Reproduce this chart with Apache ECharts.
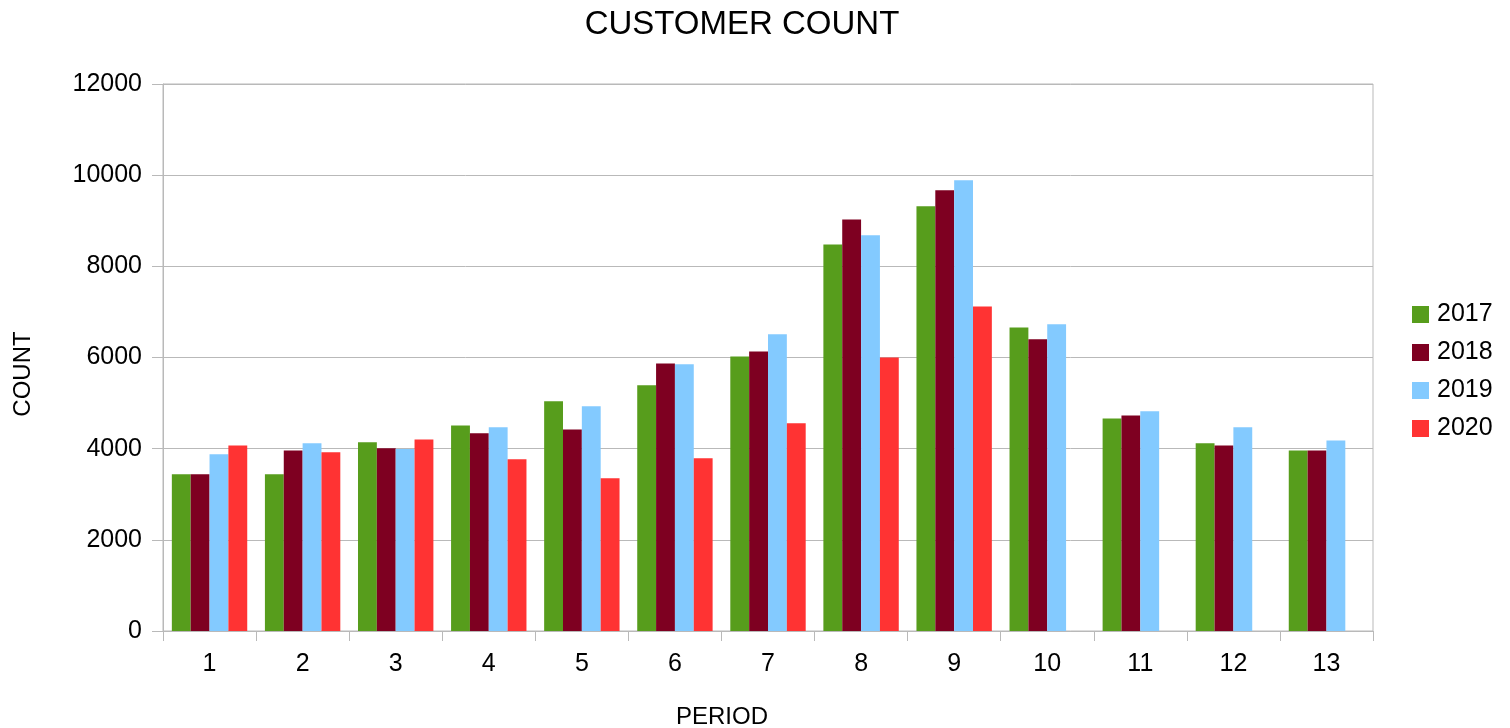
<!DOCTYPE html>
<html>
<head>
<meta charset="utf-8">
<title>Customer Count</title>
<script src="https://cdn.jsdelivr.net/npm/echarts@6/dist/echarts.min.js"></script>
<style>
  html, body { margin: 0; padding: 0; background: #ffffff; }
  #chart { width: 1510px; height: 728px; }
</style>
</head>
<body>
<div id="chart"></div>
<script>
// Periods on the category axis
const periods = ['1', '2', '3', '4', '5', '6', '7', '8', '9', '10', '11', '12', '13'];

// Customer counts per period, one array per year (2020 has no data after period 9)
const count2017 = [3440, 3440, 4140, 4510, 5040, 5390, 6020, 8480, 9320, 6660, 4660, 4120, 3960];
const count2018 = [3440, 3960, 4010, 4340, 4420, 5870, 6130, 9030, 9670, 6400, 4730, 4070, 3960];
const count2019 = [3880, 4120, 3990, 4470, 4930, 5850, 6510, 8680, 9890, 6730, 4820, 4470, 4180];
const count2020 = [4070, 3920, 4200, 3770, 3350, 3790, 4560, 6000, 7120, null, null, null, null];

const yearNames = ['2017', '2018', '2019', '2020'];
const yearColors = ['#579d1c', '#7e0021', '#83caff', '#ff3333'];
const yearData = [count2017, count2018, count2019, count2020];

const FONT = '"Liberation Sans", Arial, sans-serif';
const GRID_GRAY = '#b9b9b9';

const chart = echarts.init(document.getElementById('chart'), null, { renderer: 'canvas' });

chart.setOption({
  animation: false,
  backgroundColor: '#ffffff',
  textStyle: { fontFamily: FONT, color: '#000000' },
  grid: {
    left: 163, right: 137, top: 84, bottom: 97,
    show: true, borderColor: GRID_GRAY, borderWidth: 1,
    containLabel: false
  },
  legend: {
    orient: 'vertical',
    left: 1412,
    top: 302,
    padding: 0,
    itemWidth: 17,
    itemHeight: 17,
    itemGap: 13,
    icon: 'rect',
    textStyle: { fontFamily: FONT, fontSize: 25, color: '#000000', lineHeight: 24, padding: [0, 0, 0, 3] },
    data: yearNames
  },
  xAxis: {
    type: 'category',
    data: periods,
    axisLine: { show: true, lineStyle: { color: GRID_GRAY, width: 1 } },
    axisTick: { show: true, length: 10, lineStyle: { color: GRID_GRAY, width: 1 } },
    axisLabel: { fontFamily: FONT, fontSize: 25, color: '#000000', margin: 21 },
    splitLine: { show: false }
  },
  yAxis: {
    type: 'value',
    min: 0,
    max: 12000,
    interval: 2000,
    axisLine: { show: true, lineStyle: { color: GRID_GRAY, width: 1 } },
    axisTick: { show: true, length: 11, lineStyle: { color: GRID_GRAY, width: 1 } },
    axisLabel: {
      fontFamily: FONT, fontSize: 25, color: '#000000', margin: 21,
      formatter: (v) => String(v)
    },
    splitLine: { show: true, lineStyle: { color: GRID_GRAY, width: 1 } }
  },
  series: yearNames.map((name, i) => ({
    name: name,
    type: 'bar',
    data: yearData[i],
    barGap: '0%',
    barCategoryGap: '19%',
    itemStyle: { color: yearColors[i] },
    emphasis: { disabled: true }
  })),
  graphic: [
    {
      type: 'text',
      x: 742, y: 25,
      style: {
        text: 'CUSTOMER COUNT',
        font: '33px ' + FONT,
        fill: '#000000',
        textAlign: 'center',
        textVerticalAlign: 'middle'
      }
    },
    {
      type: 'text',
      x: 722, y: 717,
      style: {
        text: 'PERIOD',
        font: '24px ' + FONT,
        fill: '#000000',
        textAlign: 'center',
        textVerticalAlign: 'middle'
      }
    },
    {
      type: 'text',
      x: 23, y: 374,
      rotation: Math.PI / 2,
      style: {
        text: 'COUNT',
        font: '24px ' + FONT,
        fill: '#000000',
        textAlign: 'center',
        textVerticalAlign: 'middle'
      }
    }
  ]
});
</script>
</body>
</html>
